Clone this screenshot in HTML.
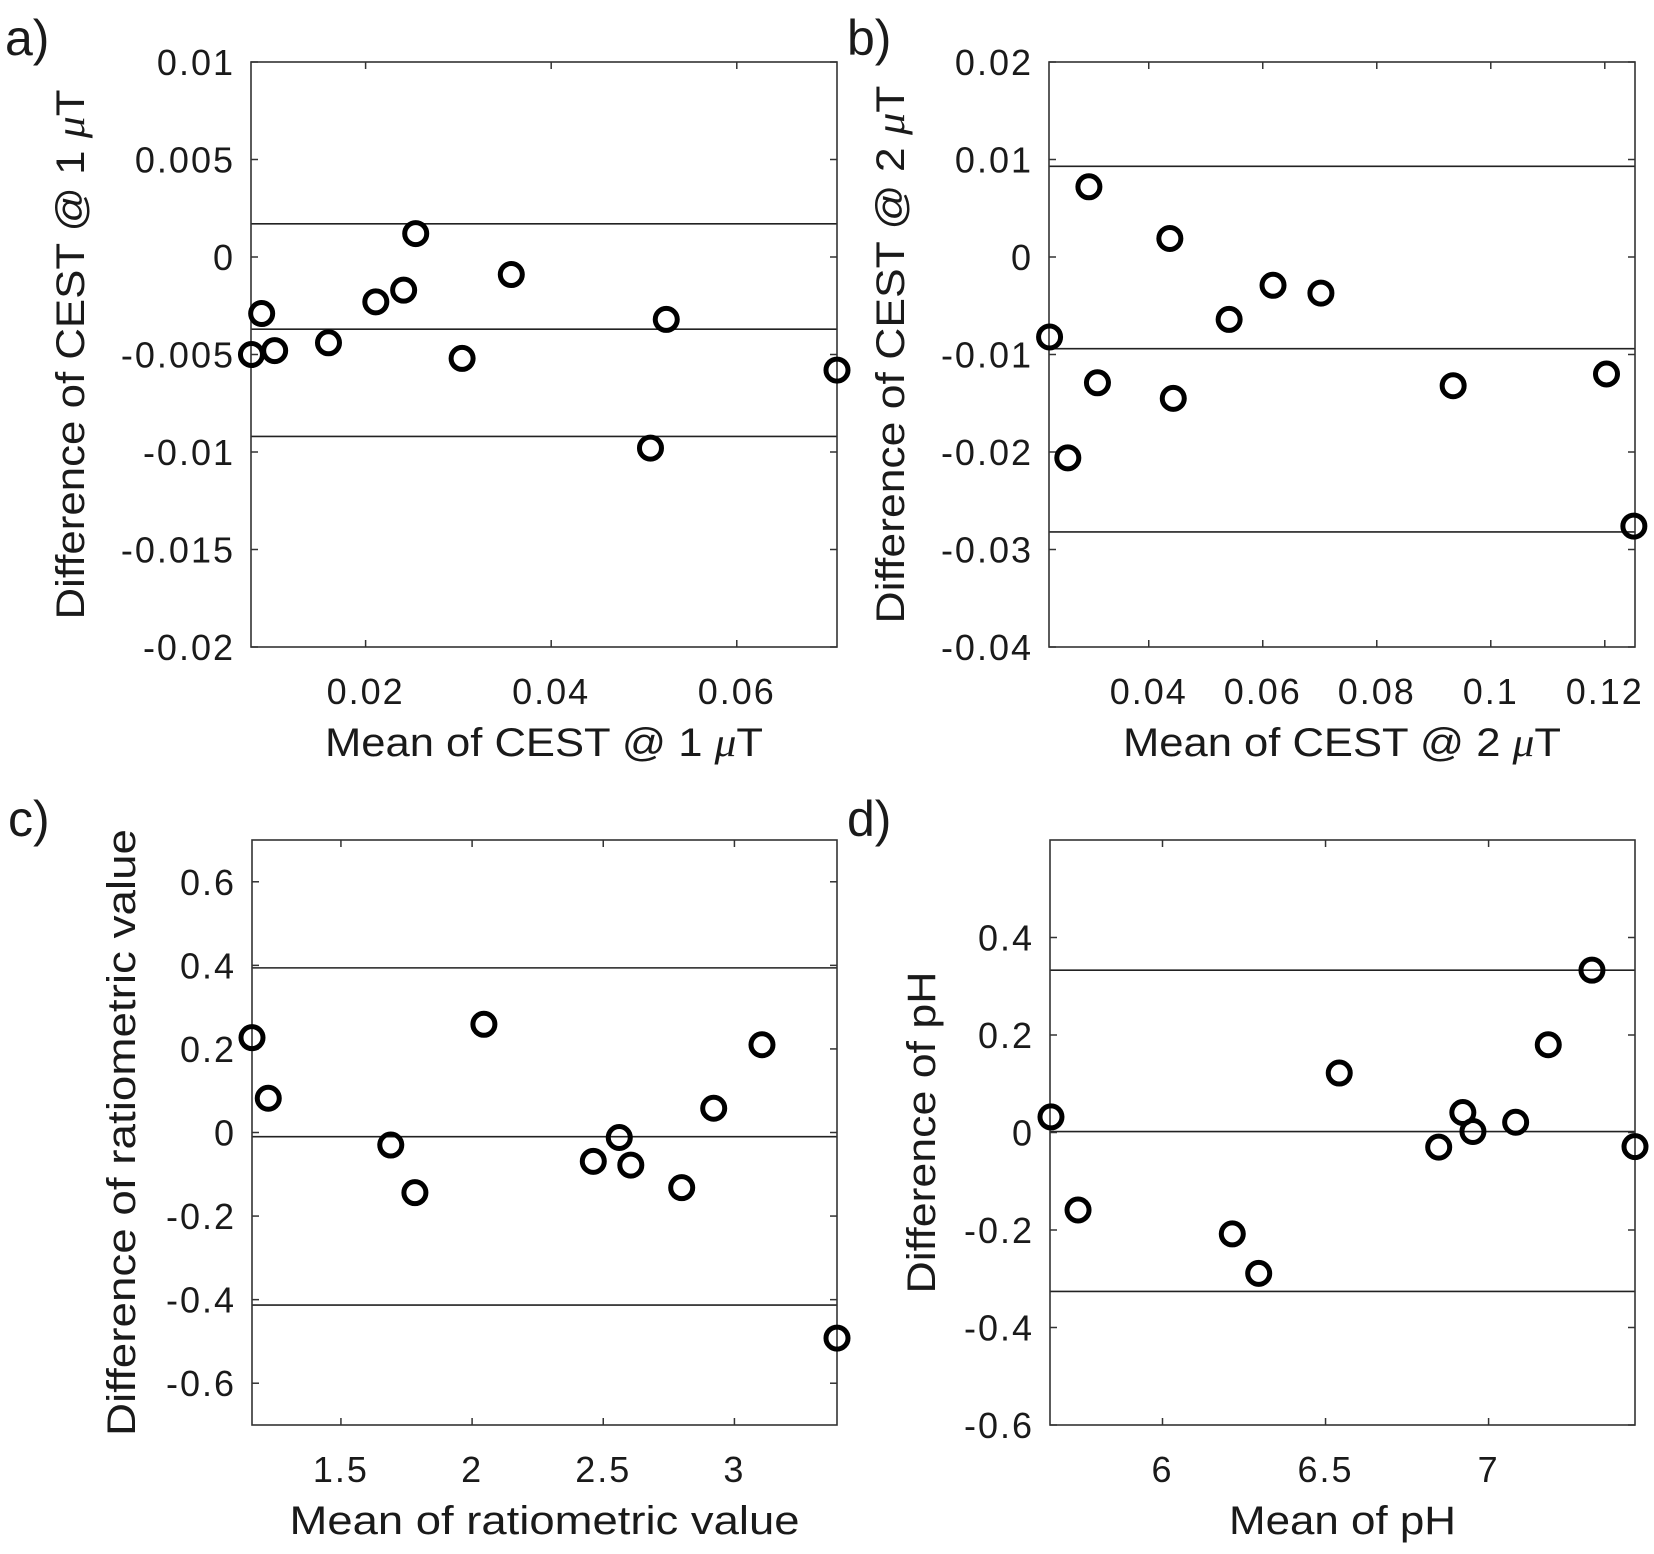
<!DOCTYPE html>
<html><head><meta charset="utf-8"><style>
html,body{margin:0;padding:0;background:#fff}
svg{display:block}
text{font-family:"Liberation Sans",sans-serif;fill:#1a1a1a}
</style></head><body>
<svg id="fig" width="1654" height="1554" viewBox="0 0 1654 1554" xmlns="http://www.w3.org/2000/svg"></svg>
<script>
// ---- data: panel a ----
const aMeans = [0.0077,0.0088,0.0102,0.0160,0.0211,0.0241,0.0254,0.0304,0.0357,0.0507,0.0524,0.0708];
const aDiffs = [-0.0050,-0.0029,-0.0048,-0.0044,-0.0023,-0.0017,0.0012,-0.0052,-0.0009,-0.0098,-0.0032,-0.0058];
const aLimits = [0.0017,-0.0037,-0.0092];
const aXTicks = [0.02,0.04,0.06];
const aXTickLabels = ["0.02","0.04","0.06"];
const aYTicks = [0.01,0.005,0,-0.005,-0.01,-0.015,-0.02];
const aYTickLabels = ["0.01","0.005","0","-0.005","-0.01","-0.015","-0.02"];
// ---- data: panel b ----
const bMeans = [0.0226,0.0295,0.0258,0.0310,0.0437,0.0443,0.0541,0.0618,0.0702,0.0934,0.1203,0.1251];
const bDiffs = [-0.0082,0.0072,-0.0206,-0.0129,0.0019,-0.0145,-0.0064,-0.0029,-0.0037,-0.0132,-0.0120,-0.0276];
const bLimits = [0.0093,-0.0094,-0.0282];
const bXTicks = [0.04,0.06,0.08,0.1,0.12];
const bXTickLabels = ["0.04","0.06","0.08","0.1","0.12"];
const bYTicks = [0.02,0.01,0,-0.01,-0.02,-0.03,-0.04];
const bYTickLabels = ["0.02","0.01","0","-0.01","-0.02","-0.03","-0.04"];
// ---- data: panel c ----
const cMeans = [1.161,1.223,1.690,1.782,2.045,2.462,2.561,2.605,2.799,2.921,3.105,3.391];
const cDiffs = [0.227,0.082,-0.030,-0.144,0.259,-0.069,-0.012,-0.078,-0.132,0.058,0.210,-0.492];
const cLimits = [0.394,-0.010,-0.413];
const cXTicks = [1.5,2,2.5,3];
const cXTickLabels = ["1.5","2","2.5","3"];
const cYTicks = [0.6,0.4,0.2,0,-0.2,-0.4,-0.6];
const cYTickLabels = ["0.6","0.4","0.2","0","-0.2","-0.4","-0.6"];
// ---- data: panel d ----
const dMeans = [5.658,5.741,6.214,6.295,6.542,6.847,6.921,6.952,7.083,7.183,7.317,7.449];
const dDiffs = [0.032,-0.159,-0.208,-0.289,0.122,-0.030,0.041,0.002,0.021,0.180,0.333,-0.029];
const dLimits = [0.333,0.002,-0.326];
const dXTicks = [6,6.5,7];
const dXTickLabels = ["6","6.5","7"];
const dYTicks = [0.4,0.2,0,-0.2,-0.4,-0.6];
const dYTickLabels = ["0.4","0.2","0","-0.2","-0.4","-0.6"];

const NS = "http://www.w3.org/2000/svg";
const svg = document.getElementById("fig");
function mk(tag, attrs, parent){
  const e = document.createElementNS(NS, tag);
  for (const k in attrs) e.setAttribute(k, attrs[k]);
  (parent||svg).appendChild(e);
  return e;
}

function panel(o){
  const g = mk("g", {});
  
  
  const X = v => o.L + (v - o.xmin) / (o.xmax - o.xmin) * (o.R - o.L);
  const Y = v => o.B - (v - o.ymin) / (o.ymax - o.ymin) * (o.B - o.T);
  const lt = mk("text", {x:o.lx, y:o.ly, "font-size":50}, g);
  lt.textContent = o.id + ")";
  
  
  o.limits.forEach((v,i)=>{
    const ln = mk("line", {x1:o.L, x2:o.R, y1:Y(v), y2:Y(v), stroke:"#222", "stroke-width":1.6}, g);
    
    
  });
  const box = mk("rect", {x:o.L, y:o.T, width:o.R-o.L, height:o.B-o.T, fill:"none", stroke:"#333", "stroke-width":1.6}, g);
  
  
  o.xt.forEach((v,i)=>{
    const x = X(v);
    mk("line", {x1:x, x2:x, y1:o.B, y2:o.B-7, stroke:"#333", "stroke-width":1.5}, g);
    mk("line", {x1:x, x2:x, y1:o.T, y2:o.T+7, stroke:"#333", "stroke-width":1.5}, g);
    const t = mk("text", {x:x, y:o.B+57, "font-size":36, "letter-spacing":2, "text-anchor":"middle"}, g);
    t.textContent = o.xl[i];
    
    
  });
  o.yt.forEach((v,i)=>{
    const y = Y(v);
    mk("line", {x1:o.L, x2:o.L+7, y1:y, y2:y, stroke:"#333", "stroke-width":1.5}, g);
    mk("line", {x1:o.R, x2:o.R-7, y1:y, y2:y, stroke:"#333", "stroke-width":1.5}, g);
    const t = mk("text", {x:o.L-16, y:y+13, "font-size":36, "letter-spacing":2, "text-anchor":"end"}, g);
    t.textContent = o.yl[i];
    
    
  });
  const xt = mk("text", {x:(o.L+o.R)/2, y:o.B+109, "font-size":40, "text-anchor":"middle", textLength:o.xtl, lengthAdjust:"spacingAndGlyphs"}, g);
  xt.innerHTML = o.xtitle;
  
  
  const cy = (o.T+o.B)/2;
  const yt = mk("text", {x:o.ytx, y:cy, "font-size":40, "text-anchor":"middle", transform:`rotate(-90 ${o.ytx} ${cy})`, textLength:o.ytl, lengthAdjust:"spacingAndGlyphs"}, g);
  yt.innerHTML = o.ytitle;
  
  
  o.xs.forEach((v,i)=>{
    const c = mk("circle", {cx:X(v), cy:Y(o.ys[i]), r:11, fill:"none", stroke:"#000", "stroke-width":5}, g);
    
    
  });
}

const mu = '<tspan font-family="Liberation Serif" font-style="italic">μ</tspan>';
panel({id:"a", L:251, R:837, T:62, B:647, xmin:0.00765, xmax:0.0708, ymin:-0.02, ymax:0.01,
  xs:aMeans, ys:aDiffs, limits:aLimits, xt:aXTicks, xl:aXTickLabels, yt:aYTicks, yl:aYTickLabels,
  lx:5, ly:55, xtitle:"Mean of CEST @ 1 "+mu+"T", xtl:438, ytx:84, ytitle:"Difference of CEST @ 1 "+mu+"T", ytl:530});
panel({id:"b", L:1049, R:1635, T:62, B:647, xmin:0.0225, xmax:0.1253, ymin:-0.04, ymax:0.02,
  xs:bMeans, ys:bDiffs, limits:bLimits, xt:bXTicks, xl:bXTickLabels, yt:bYTicks, yl:bYTickLabels,
  lx:847, ly:55, xtitle:"Mean of CEST @ 2 "+mu+"T", xtl:438, ytx:904, ytitle:"Difference of CEST @ 2 "+mu+"T", ytl:538});
panel({id:"c", L:252, R:837, T:840, B:1425, xmin:1.161, xmax:3.391, ymin:-0.7, ymax:0.7,
  xs:cMeans, ys:cDiffs, limits:cLimits, xt:cXTicks, xl:cXTickLabels, yt:cYTicks, yl:cYTickLabels,
  lx:8, ly:836, xtitle:"Mean of ratiometric value", xtl:510, ytx:135, ytitle:"Difference of ratiometric value", ytl:607});
panel({id:"d", L:1050, R:1635, T:840, B:1425, xmin:5.655, xmax:7.449, ymin:-0.6, ymax:0.6,
  xs:dMeans, ys:dDiffs, limits:dLimits, xt:dXTicks, xl:dXTickLabels, yt:dYTicks, yl:dYTickLabels,
  lx:847, ly:836, xtitle:"Mean of pH", xtl:227, ytx:935, ytitle:"Difference of pH", ytl:322});
</script>
</body></html>
